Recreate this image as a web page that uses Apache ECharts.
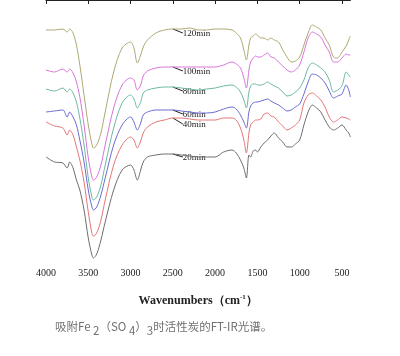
<!DOCTYPE html>
<html><head><meta charset="utf-8">
<script src="https://cdn.jsdelivr.net/npm/echarts@6/dist/echarts.min.js"></script>
<style>html,body{margin:0;padding:0;background:#fff}#c{width:400px;height:356px}</style>
</head><body><div id="c"></div>
<script>
// Wavenumbers (cm-1) at which the curves were read
const wavenumbers = [4000,3900,3800,3750,3720,3680,3640,3600,3550,3500,3460,3440,3400,3350,3300,3200,3100,3000,2960,2920,2880,2850,2800,2700,2600,2500,2400,2300,2200,2100,2000,1900,1800,1750,1700,1660,1630,1600,1580,1550,1520,1500,1460,1420,1380,1340,1300,1250,1200,1150,1100,1050,1000,950,900,850,800,750,700,650,600,550,500,450,420,400];
// Offset absorption-like readings (larger = lower on the plot), one per series
const s120 = [30,30,29,32,29,33,45,65,95,125,143,148,145,133,112,72,48,42,48,63,55,47,40,33,30,29,29,28,30,30,29,29,30,33,38,50,60,45,38,36,34,35,38,38,40,38,40,42,50,57,62,61,57,45,33,25,27,30,38,45,57,58,52,46,40,36];
const s100 = [70,72,69,72,69,73,82,97,125,158,176,180,177,165,145,108,85,78,80,90,85,76,71,68,67,67,67,67,67,67,67,65,62,64,68,78,88,70,62,58,56,57,57,55,53,57,58,62,66,70,72,70,65,52,38,32,34,37,45,52,62,62,58,54,55,55];
const s80 = [89,91,88,92,89,93,102,118,145,178,196,200,197,185,165,128,103,95,99,108,102,93,90,88,87,87,88,89,90,89,88,86,85,87,92,100,108,92,86,84,84,85,85,84,82,84,86,88,92,96,95,92,88,80,68,63,65,68,72,80,92,90,86,72,75,77];
const s60 = [112,111,110,117,112,117,125,140,162,190,206,210,207,195,178,145,125,117,122,130,123,115,112,110,110,110,111,112,113,113,112,109,107,109,115,122,128,112,106,103,102,102,101,100,99,101,103,105,108,111,110,107,104,94,82,74,75,78,83,91,98,96,94,85,90,97];
const s40 = [122,126,128,135,130,135,147,160,182,212,232,236,233,220,200,165,145,137,140,148,141,133,127,122,120,118,118,119,120,120,120,118,118,120,128,140,153,133,125,122,120,120,119,114,113,116,117,122,126,130,128,125,120,103,95,93,96,100,107,117,122,120,117,118,119,120];
const s20 = [157,162,163,168,162,168,180,190,210,238,254,258,254,240,222,190,170,165,170,180,170,162,157,155,154,154,155,156,157,157,157,152,150,153,160,168,178,155,157,151,150,152,147,143,140,136,133,138,142,147,147,144,140,125,112,105,108,112,120,127,130,128,125,130,133,137];
const seriesNames = ['120min','100min','80min','60min','40min','20min'];
const seriesData = [s120,s100,s80,s60,s40,s20];
const xTicks = [4000,3500,3000,2500,2000,1500,1000,500];
const labelAt = 2500;

const colors = ['#ada873','#d873d8','#6db8a2','#6b6bcf','#e47676','#6e6e6e'];
const labelDy = [5,5,5,5,7,4];

const chart = echarts.init(document.getElementById('c'), null, {renderer:'canvas'});
const series = seriesNames.map((n,i)=>({
  name:n, type:'line', symbol:'none', smooth:0.3,
  lineStyle:{width:1, color:colors[i]},
  data: wavenumbers.map((w,j)=>[w, seriesData[i][j]]),
  silent:true, animation:false
}));
chart.setOption({
  animation:false,
  grid:{left:46, right:49.6, top:0, bottom:94},
  xAxis:{type:'value', inverse:true, min:400, max:4000,
    axisLine:{lineStyle:{color:'#222', width:1}},
    axisTick:{customValues:xTicks, length:4, inside:false, lineStyle:{color:'#222'}},
    axisLabel:{customValues:xTicks, color:'#222', fontFamily:'Liberation Serif', fontSize:10, margin:6, formatter:(v)=>String(v)},
    splitLine:{show:false},
    name:'Wavenumbers（cm{sup|-1}）', nameLocation:'middle', nameGap:32,
    nameTextStyle:{color:'#222', fontFamily:'Liberation Serif', fontWeight:'bold', fontSize:12,
      rich:{sup:{fontSize:7, fontFamily:'Liberation Serif', fontWeight:'bold', color:'#222', verticalAlign:'top', padding:[0,0,6,0]}}}
  },
  yAxis:{type:'value', inverse:true, min:0, max:262, show:false},
  series
});

const graphics = [];
seriesNames.forEach((n,i)=>{
  const j = wavenumbers.indexOf(labelAt);
  const p = chart.convertToPixel({gridIndex:0}, [labelAt, seriesData[i][j]]);
  graphics.push({type:'line', shape:{x1:p[0], y1:p[1], x2:p[0]+10, y2:p[1]+labelDy[i]-1}, style:{stroke:'#222', lineWidth:1}, silent:true});
  graphics.push({type:'text', x:p[0]+10, y:p[1]+labelDy[i], style:{text:n, fill:'#222', font:'9px "Liberation Serif"', textVerticalAlign:'middle', textAlign:'left'}, silent:true});
});
graphics.push({type:'text', left:55, top:321, style:{
  rich:{n:{fontSize:11.5, fill:'#707070', fontFamily:'"Noto Sans CJK SC", sans-serif'}, s:{fontSize:11.5, fill:'#707070', fontFamily:'"Noto Sans CJK SC", sans-serif', padding:[8,0,0,0]}},
  text:'{n|吸附Fe }{s|2}{n|（SO }{s|4}{n|）}{s|3}{n|时活性炭的FT-IR光谱。}'
}, silent:true});
chart.setOption({graphic:graphics});
</script></body></html>
